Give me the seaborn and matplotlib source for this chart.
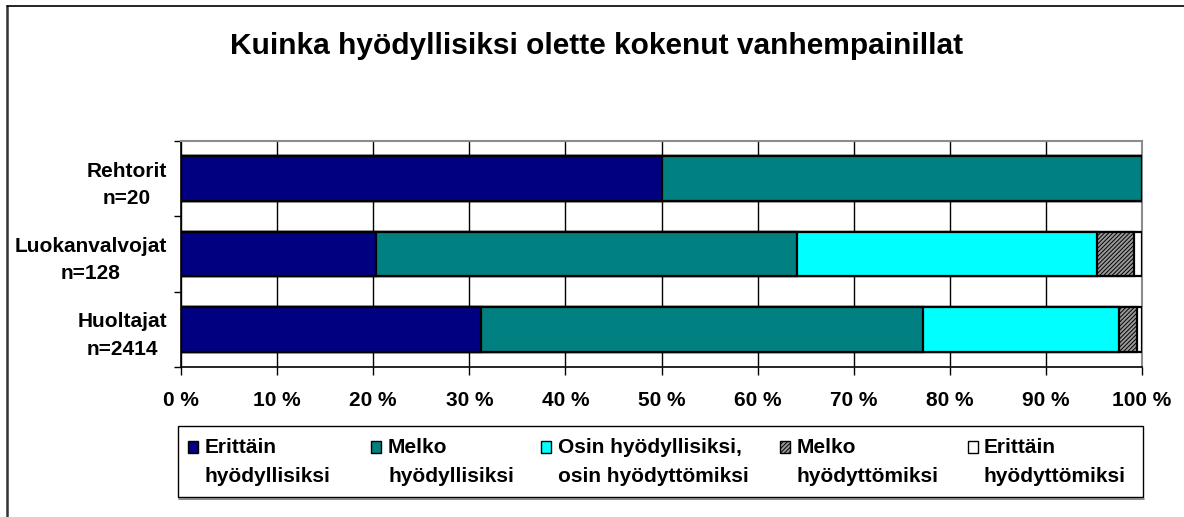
import numpy as np
import pandas as pd
import matplotlib
matplotlib.use("Agg")
import matplotlib.pyplot as plt
from matplotlib.patches import Rectangle
from matplotlib.lines import Line2D
import seaborn as sns

title = "Kuinka hyödyllisiksi olette kokenut vanhempainillat"
groups = ["Rehtorit\nn=20", "Luokanvalvojat\nn=128", "Huoltajat\nn=2414"]
answers = ["Erittäin\nhyödyllisiksi", "Melko\nhyödyllisiksi",
           "Osin hyödyllisiksi,\nosin hyödyttömiksi", "Melko\nhyödyttömiksi",
           "Erittäin\nhyödyttömiksi"]
# percentages per group, in answer order
rehtorit = [50.0, 50.0, 0.0, 0.0, 0.0]
luokanvalvojat = [20.3, 43.8, 31.2, 3.9, 0.8]
huoltajat = [31.2, 46.0, 20.4, 1.9, 0.5]
colors = ["#000080", "#008080", "#00ffff", "#9a9a9a", "#ffffff"]
hatches = [None, None, None, "////////", None]

sns.set_style("white")
plt.rcParams['font.family'] = ['Liberation Sans', 'DejaVu Sans']
plt.rcParams['text.color'] = 'black'
plt.rcParams['xtick.color'] = 'black'
plt.rcParams['ytick.color'] = 'black'
plt.rcParams['hatch.color'] = '#505050'
plt.rcParams['hatch.linewidth'] = 0.7

df = pd.DataFrame([rehtorit, luokanvalvojat, huoltajat], columns=answers)
df.insert(0, 'group', groups)
cum = df[answers].cumsum(axis=1)

W, H = 1184, 517
fig = plt.figure(figsize=(11.84, 5.17), dpi=100)
ax = fig.add_axes([181 / W, 1 - 367 / H, 961 / W, 226 / H])

# overlay cumulative bars, widest first
for i in reversed(range(len(answers))):
    d = pd.DataFrame({'group': groups, 'val': cum[answers[i]].values})
    sns.barplot(data=d, x='val', y='group', orient='h', color=colors[i],
                edgecolor='black', linewidth=1.6, width=0.59, hatch=hatches[i],
                saturation=1, ax=ax, zorder=3)

ax.set_xlim(0, 100)
ax.set_ylim(2.5, -0.5)
ax.set_xticks(np.arange(0, 101, 10))
ax.set_xticklabels([f"{v} %" for v in range(0, 101, 10)], fontsize=15, fontweight='bold')
ax.xaxis.grid(True, color='black', linewidth=1.0, zorder=0)
ax.set_axisbelow(True)
ax.tick_params(axis='x', which='major', direction='out', length=6, width=1, pad=11, bottom=True)
ax.set_yticks(range(3))
ax.set_yticklabels(groups, fontsize=15, fontweight='bold', multialignment='center',
                   linespacing=1.55)
ax.tick_params(axis='y', which='major', length=0, pad=10)
ax.set_yticks([-0.5, 0.5, 1.5, 2.5], minor=True)
ax.tick_params(axis='y', which='minor', direction='out', length=5, width=1, left=True)
ax.set_xlabel("")
ax.set_ylabel("")
for s in ['left', 'bottom']:
    ax.spines[s].set_color('black')
    ax.spines[s].set_linewidth(1.2)
for s in ['top', 'right']:
    ax.spines[s].set_color('#8c8c8c')
    ax.spines[s].set_linewidth(1.5)

fig.text(597 / W, 1 - 46 / H, title, ha='center', va='center',
         fontsize=21.5, fontweight='bold')

# legend box
fig.patches.append(Rectangle((178 / W, 1 - 497 / H), (1143 - 178) / W, (497 - 426) / H,
                             transform=fig.transFigure, facecolor='white',
                             edgecolor='black', linewidth=1.0))
fig.lines.append(Line2D([179 / W, 1144 / W], [1 - 498.5 / H] * 2, transform=fig.transFigure,
                        color='#777777', linewidth=1.2))
marker_x = [188, 371, 541, 780, 968]
text_x = [205, 388, 558, 797, 984]
for i, lab in enumerate(answers):
    fig.patches.append(Rectangle((marker_x[i] / W, 1 - 453 / H), 10 / W, 12 / H,
                                 transform=fig.transFigure, facecolor=colors[i],
                                 hatch=hatches[i], edgecolor='black', linewidth=1.0))
    first, second = lab.split("\n")
    fig.text(text_x[i] / W, 1 - 453 / H, first, ha='left', va='baseline',
             fontsize=15, fontweight='bold')
    fig.text(text_x[i] / W, 1 - 482 / H, second, ha='left', va='baseline',
             fontsize=15, fontweight='bold')

# outer frame (left and top edges visible)
fig.lines.append(Line2D([7 / W, 7 / W], [0, 1 - 6 / H], transform=fig.transFigure,
                        color='#333333', linewidth=1.8))
fig.lines.append(Line2D([7 / W, 1], [1 - 6 / H, 1 - 6 / H], transform=fig.transFigure,
                        color='black', linewidth=1.2))

fig.savefig("out.png", dpi=100)
